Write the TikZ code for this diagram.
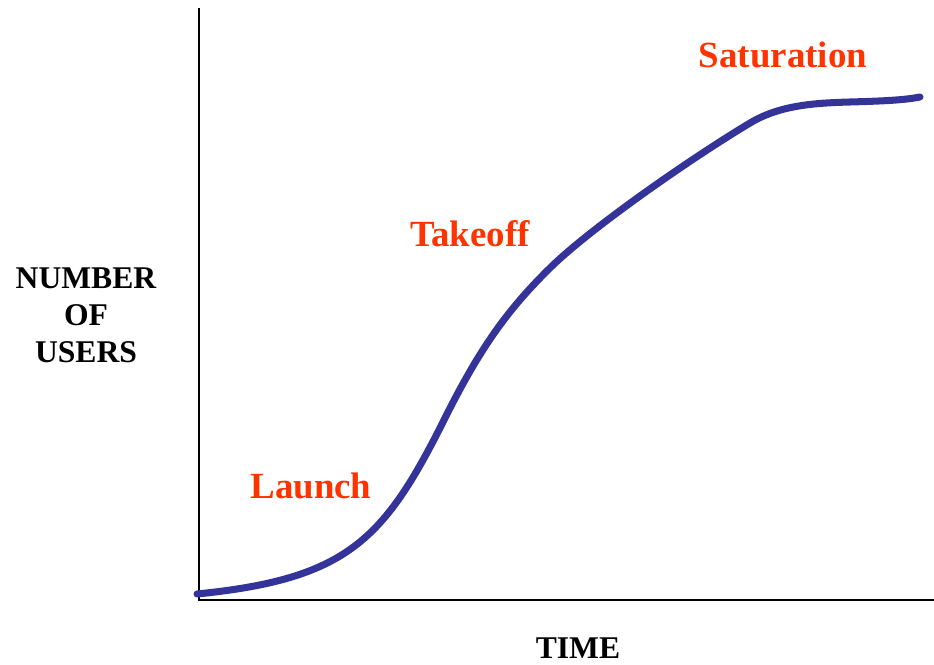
\documentclass[tikz,border=0pt]{standalone}
\usepackage{fontspec}
\setmainfont{Liberation Serif}
\definecolor{phasered}{RGB}{255,51,0}
\definecolor{curveblue}{RGB}{51,51,153}
\newcommand{\hiX}{735}
\newcommand{\hiY}{592}

\begin{document}
\begin{tikzpicture}[x=0.02cm,y=0.02cm]
        \tikzset{
            phase/.style={text=phasered, font=\bfseries\fontsize{21}{25}\selectfont},
            axislabel/.style={font=\bfseries\fontsize{18}{21}\selectfont, align=center}
        }
        \useasboundingbox (-199,-64) rectangle (735,600);

        % Draw the x and y axes
        \coordinate (origin) at (0,0);
        \coordinate (xend) at (\hiX,0);
        \coordinate (yend) at (0,\hiY);
        \draw[line width=1.1pt] (yend) -- (origin) -- (xend);

        % Draw the growth curve
        \draw[curveblue, line width=4pt, line cap=round]
            (-2,6) .. controls (148,21) and (185,60) .. (245,180)
            .. controls (280,250) and (307,289) .. (352,333)
            .. controls (392,372) and (491,441) .. (551,477)
            .. controls (581,495) and (616,497) .. (651,498)
            .. controls (686,499) and (706,500) .. (721,503);

        % Phase labels
        \node[phase] (saturation) at (584,545) {Saturation};
        \node[phase] (takeoff) at (271,366) {Takeoff};
        \node[phase] (launch) at (112,114) {Launch};

        % Axis labels
        \node[axislabel] (users) at (-113,285) {NUMBER\\OF\\USERS};
        \node[axislabel] (time) at (379,-48) {TIME};
    \end{tikzpicture}
\end{document}
